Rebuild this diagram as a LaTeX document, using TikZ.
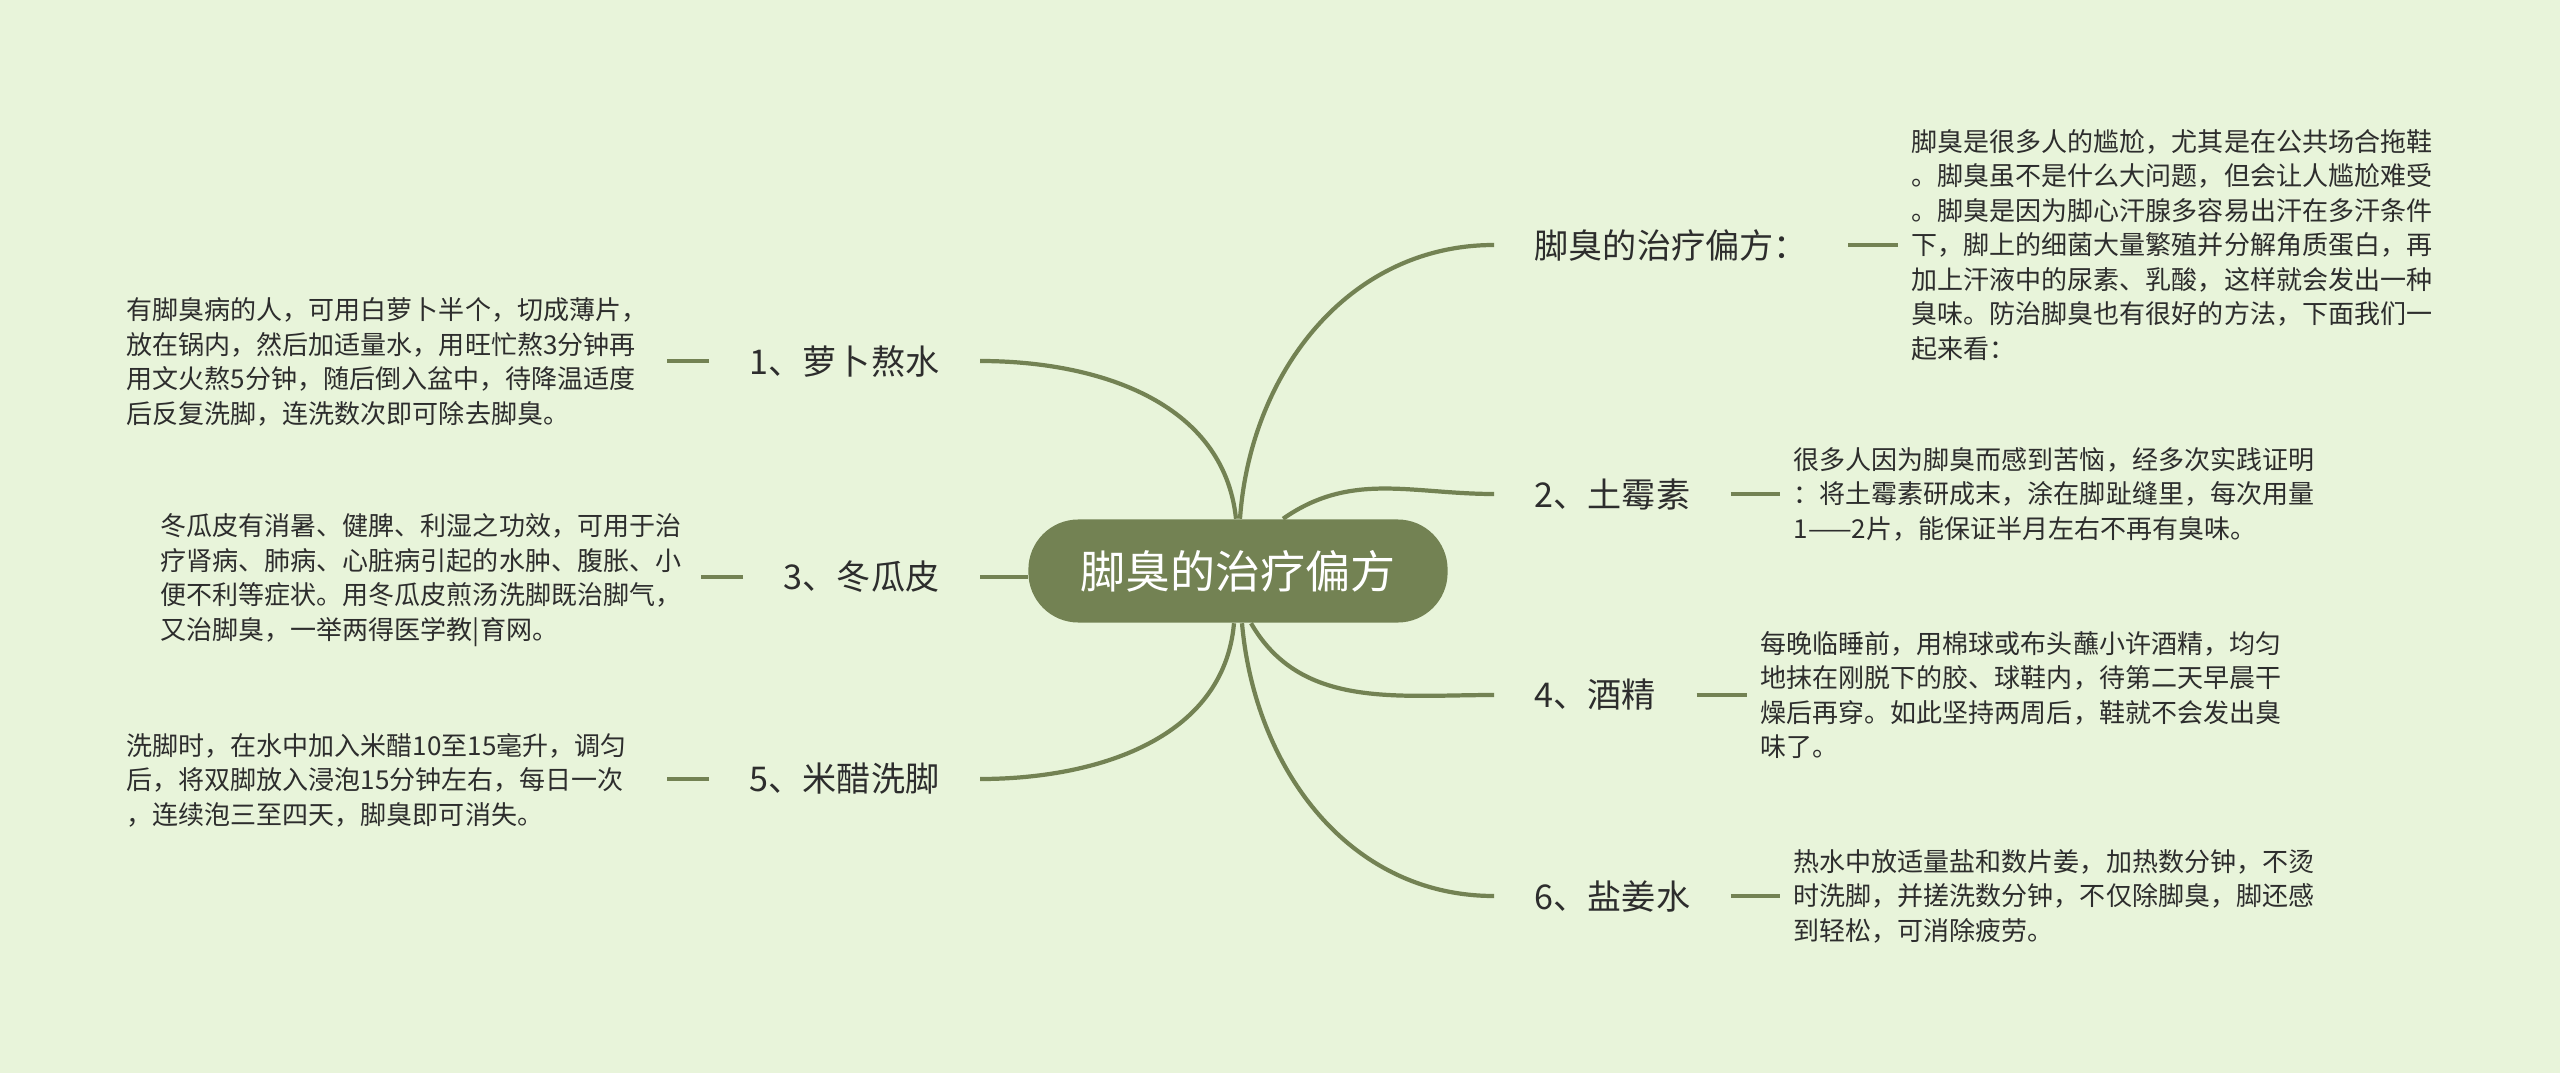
\documentclass[tikz,border=0pt]{standalone}
\usepackage{fontspec}
\setmainfont{Noto Sans CJK SC}
\definecolor{bgpaper}{RGB}{232,244,218}
\definecolor{olive}{RGB}{115,130,83}
\definecolor{inkgray}{RGB}{45,45,45}
\begin{document}
\begin{tikzpicture}[x=0.01cm,y=-0.01cm,
		root/.style={fill=olive,text=white,rounded corners=0.5cm,minimum width=4.19cm,minimum height=1.03cm,font=\fontsize{12.8}{15}\selectfont},
		topic/.style={text=inkgray,inner xsep=0.4cm,inner ysep=0.1cm,font=\fontsize{9.7}{11}\selectfont},
		note/.style={text=inkgray,align=left,anchor=west,inner ysep=0pt,font=\fontsize{7.4}{9.8}\selectfont},
		lnote/.style={note,inner xsep=0pt,text width=5.39cm},
		rnote/.style={note,inner xsep=0.13cm},
		branch/.style={draw=olive,line width=1.2pt}]
		\fill[bgpaper] (0,0) rectangle (2560,1073);
		\node[root] (r) at (1238,571) {脚臭的治疗偏方};
		\node[topic,anchor=west] (t0) at (1494,245) {脚臭的治疗偏方：};
		\node[topic,anchor=east] (t1) at (980,361) {1、萝卜熬水};
		\node[topic,anchor=west] (t2) at (1494,494) {2、土霉素};
		\node[topic,anchor=east] (t3) at (980,577) {3、冬瓜皮};
		\node[topic,anchor=west] (t4) at (1494,695) {4、酒精};
		\node[topic,anchor=east] (t5) at (980,779) {5、米醋洗脚};
		\node[topic,anchor=west] (t6) at (1494,896) {6、盐姜水};
		\node[rnote] (n0) at (1898,245) {脚臭是很多人的尴尬，尤其是在公共场合拖鞋\\。脚臭虽不是什么大问题，但会让人尴尬难受\\。脚臭是因为脚心汗腺多容易出汗在多汗条件\\下，脚上的细菌大量繁殖并分解角质蛋白，再\\加上汗液中的尿素、乳酸，这样就会发出一种\\臭味。防治脚臭也有很好的方法，下面我们一\\起来看：};
		\node[lnote] (n1) at (126,362) {有脚臭病的人，可用白萝卜半个，切成薄片，\\放在锅内，然后加适量水，用旺忙熬3分钟再\\用文火熬5分钟，随后倒入盆中，待降温适度\\后反复洗脚，连洗数次即可除去脚臭。};
		\node[rnote] (n2) at (1780,494) {很多人因为脚臭而感到苦恼，经多次实践证明\\：将土霉素研成末，涂在脚趾缝里，每次用量\\1——2片，能保证半月左右不再有臭味。};
		\node[lnote] (n3) at (160,580) {冬瓜皮有消暑、健脾、利湿之功效，可用于治\\疗肾病、肺病、心脏病引起的水肿、腹胀、小\\便不利等症状。用冬瓜皮煎汤洗脚既治脚气，\\又治脚臭，一举两得医学教|育网。};
		\node[rnote] (n4) at (1747,695) {每晚临睡前，用棉球或布头蘸小许酒精，均匀\\地抹在刚脱下的胶、球鞋内，待第二天早晨干\\燥后再穿。如此坚持两周后，鞋就不会发出臭\\味了。};
		\node[lnote] (n5) at (126,780) {洗脚时，在水中加入米醋10至15毫升，调匀\\后，将双脚放入浸泡15分钟左右，每日一次\\，连续泡三至四天，脚臭即可消失。};
		\node[rnote] (n6) at (1780,896) {热水中放适量盐和数片姜，加热数分钟，不烫\\时洗脚，并搓洗数分钟，不仅除脚臭，脚还感\\到轻松，可消除疲劳。};
		\draw[branch] ([xshift=0.02cm]r.north) to[out=86,in=180] (t0.west);
		\draw[branch] ([xshift=-0.02cm]r.north) to[out=96,in=0] (t1.east);
		\draw[branch] ([xshift=0.45cm]r.north) to[out=35,in=180] (t2.west);
		\draw[branch] (t3.east) -- (t3.east -| r.west);
		\draw[branch] ([xshift=0.13cm]r.south) to[out=-60,in=180] (t4.west);
		\draw[branch] ([xshift=-0.04cm]r.south) to[out=-95,in=0] (t5.east);
		\draw[branch] ([xshift=0.04cm]r.south) to[out=-85,in=180] (t6.west);
		\foreach \i in {0,2,4,6}{
				\draw[branch] (t\i.east) -- (t\i.east -| n\i.west);
			}
		\foreach \i in {1,3,5}{
				\draw[branch] (t\i.west) -- (t\i.west -| n\i.east);
			}
	\end{tikzpicture}
\end{document}
